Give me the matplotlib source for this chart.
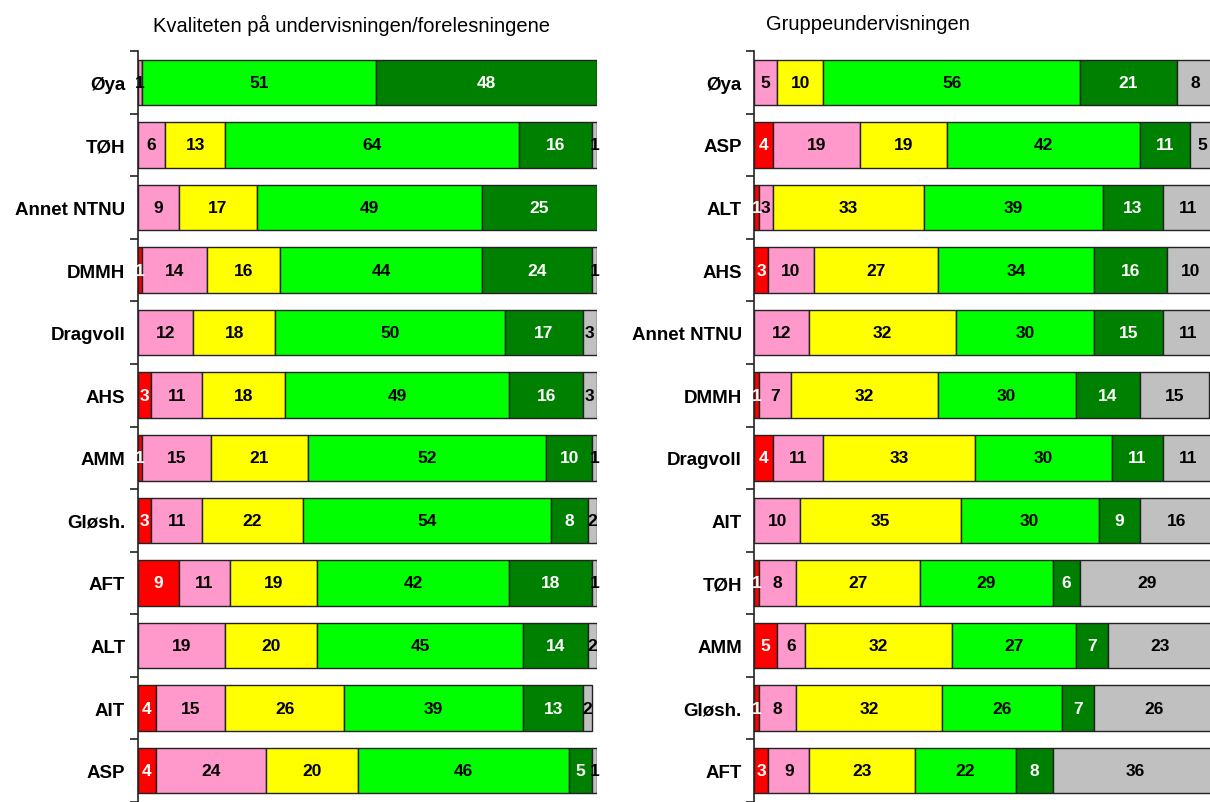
import matplotlib
matplotlib.use("Agg")
import matplotlib.pyplot as plt
import numpy as np

# ---- data ----
left_title = "Kvaliteten på undervisningen/forelesningene"
left_cats = ["Øya", "TØH", "Annet NTNU", "DMMH", "Dragvoll", "AHS", "AMM",
             "Gløsh.", "AFT", "ALT", "AIT", "ASP"]
left_red = [0, 0, 0, 1, 0, 3, 1, 3, 9, 0, 4, 4]
left_pink = [1, 6, 9, 14, 12, 11, 15, 11, 11, 19, 15, 24]
left_yellow = [0, 13, 17, 16, 18, 18, 21, 22, 19, 20, 26, 20]
left_lgreen = [51, 64, 49, 44, 50, 49, 52, 54, 42, 45, 39, 46]
left_dgreen = [48, 16, 25, 24, 17, 16, 10, 8, 18, 14, 13, 5]
left_grey = [0, 1, 0, 1, 3, 3, 1, 2, 1, 2, 2, 1]

right_title = "Gruppeundervisningen"
right_cats = ["Øya", "ASP", "ALT", "AHS", "Annet NTNU", "DMMH", "Dragvoll",
              "AIT", "TØH", "AMM", "Gløsh.", "AFT"]
right_red = [0, 4, 1, 3, 0, 1, 4, 0, 1, 5, 1, 3]
right_pink = [5, 19, 3, 10, 12, 7, 11, 10, 8, 6, 8, 9]
right_yellow = [10, 19, 33, 27, 32, 32, 33, 35, 27, 32, 32, 23]
right_lgreen = [56, 42, 39, 34, 30, 30, 30, 30, 29, 27, 26, 22]
right_dgreen = [21, 11, 13, 16, 15, 14, 11, 9, 6, 7, 7, 8]
right_grey = [8, 5, 11, 10, 11, 15, 11, 16, 29, 23, 26, 36]

colors = ["#FF0000", "#FF99CC", "#FFFF00", "#00FF00", "#008000", "#C0C0C0"]
text_colors = ["white", "black", "black", "black", "white", "black"]

W, H = 1210, 803
fig = plt.figure(figsize=(W / 100, H / 100), dpi=100)


def draw(ax, cats, series):
    n = len(cats)
    y = np.arange(n)
    left = np.zeros(n)
    for vals, col, tcol in zip(series, colors, text_colors):
        vals = np.array(vals, dtype=float)
        ax.barh(y, vals, left=left, height=0.727, color=col,
                edgecolor="#222222", linewidth=1.0, zorder=2)
        for i, v in enumerate(vals):
            if v > 0:
                ax.text(left[i] + v / 2, y[i], f"{int(v)}", ha="center",
                        va="center", color=tcol, fontsize=12.5,
                        fontweight="bold", family="Liberation Sans",
                        zorder=3, clip_on=False)
        left += vals
    ax.set_xlim(0, 100)
    ax.set_ylim(11.364, -0.5)
    ax.set_yticks(y)
    ax.set_yticklabels(cats, fontsize=13.5, fontweight="bold",
                       family="Liberation Sans")
    ax.tick_params(axis="y", which="major", length=0, pad=9)
    ax.set_yticks(np.arange(-0.5, n, 1.0), minor=True)
    ax.tick_params(axis="y", which="minor", length=6, width=1.2,
                   color="#222222")
    ax.set_xticks([])
    for s in ["top", "right", "bottom"]:
        ax.spines[s].set_visible(False)
    ax.spines["left"].set_linewidth(1.2)
    ax.spines["left"].set_color("#222222")


top = 1 - 52 / H
width = (596.7 - 137.7) / W
ax1 = fig.add_axes([137.7 / W, 0.0, width, top])
draw(ax1, left_cats, [left_red, left_pink, left_yellow, left_lgreen,
                      left_dgreen, left_grey])
ax2 = fig.add_axes([754.3 / W, 0.0, width, top])
draw(ax2, right_cats, [right_red, right_pink, right_yellow, right_lgreen,
                       right_dgreen, right_grey])

title_font = ["Liberation Sans Narrow", "Liberation Sans"]
fig.text(153 / W, 1 - 25 / H, left_title, ha="left", va="center",
         fontsize=14.5, family=title_font)
fig.text(766 / W, 1 - 25 / H, right_title, ha="left", va="center",
         fontsize=14.5, family=title_font)

fig.savefig("out.png", dpi=100)
